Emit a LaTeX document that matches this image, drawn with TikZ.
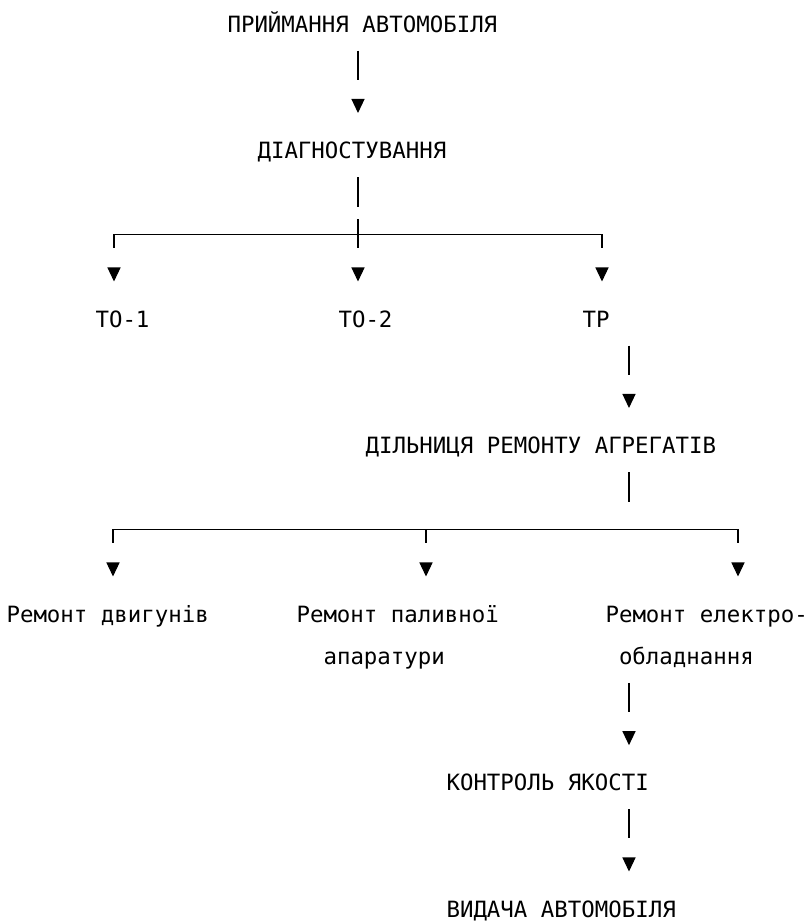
\documentclass[tikz,border=0pt]{standalone}
\usepackage{fontspec}
\setmonofont{DejaVu Sans Mono}
\usetikzlibrary{arrows.meta}
\usetikzlibrary{decorations.markings}

\tikzset{
  box/.style={anchor=base west, inner sep=0pt, text height=11.25pt, text depth=0pt},
  twoline/.style={box, align=left, text height=42.85pt},
  arr/.style={postaction={decorate}, shorten >=47.5pt},
  link/.style={arr, shorten <=13.6pt},
}

\begin{document}
\begin{tikzpicture}[x=0.75pt,y=-0.75pt,line width=0.8pt,
  font=\ttfamily\fontsize{16.8pt}{31.6pt}\selectfont,
  decoration={markings,
    mark=at position -22.5pt with {\arrow{Triangle[length=10.5pt,width=9.8pt]}}}
  ]
  \useasboundingbox (0,0) rectangle (811,922);

  \node[box] (prm)  at (227,32)    {ПРИЙМАННЯ АВТОМОБІЛЯ};
  \node[box] (diag) at (257,158.5) {ДІАГНОСТУВАННЯ};
  \node[box] (to1)  at (95,327)    {ТО-1};
  \node[box] (to2)  at (338,327)   {ТО-2};
  \node[box] (tr)   at (582,327)   {ТР};
  \node[box] (dil)  at (365,453.5) {ДІЛЬНИЦЯ РЕМОНТУ АГРЕГАТІВ};
  \node[box] (r1)   at (6,622)     {Ремонт двигунів};
  \node[twoline] (r2) at (296,664.15) {Ремонт паливної\\\hspace*{20.25pt}апаратури};
  \node[twoline] (r3) at (605,664.15) {Ремонт електро-\\\hspace*{10.1pt}обладнання};
  \node[box] (kon)  at (446,790.7) {КОНТРОЛЬ ЯКОСТІ};
  \node[box] (vyd)  at (446,917)   {ВИДАЧА АВТОМОБІЛЯ};

  \coordinate (f1)  at (358,234.75);
  \coordinate (b1l) at (114,234.75);
  \coordinate (b1r) at (602,234.75);
  \coordinate (s2)  at (629,529.8);
  \coordinate (b2l) at (113,529.8);
  \coordinate (b2m) at (426,529.8);
  \coordinate (b2r) at (738,529.8);

  \draw[link] (prm.south -| f1) -- (diag.north -| f1);

  % first fork
  \draw[shorten <=13.6pt, dash pattern=on 22.5pt off 9.1pt on 40pt] (diag.south -| f1) -- (f1);
  \draw[line cap=rect] (b1l) -- (b1r);
  \draw[arr] (b1l) -- (b1l |- to1.north);
  \draw[arr] (f1)  -- (f1 |- to2.north);
  \draw[arr] (b1r) -- (b1r |- tr.north);

  \draw[link] (tr.south -| s2) -- (dil.north -| s2);

  % second fork
  \draw[shorten <=13.6pt, shorten >=21.2pt] (dil.south -| s2) -- (s2);
  \draw[line cap=rect] (b2l) -- (b2r);
  \draw[arr] (b2l) -- (b2l |- r1.north);
  \draw[arr] (b2m) -- (b2m |- r2.north);
  \draw[arr] (b2r) -- (b2r |- r3.north);

  \draw[link] (r3.south -| s2)  -- (kon.north -| s2);
  \draw[link] (kon.south -| s2) -- (vyd.north -| s2);
\end{tikzpicture}
\end{document}
